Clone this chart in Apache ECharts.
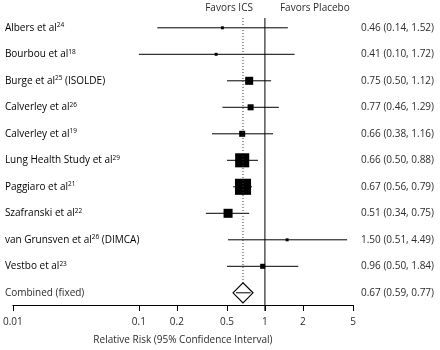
<!DOCTYPE html>
<html>
<head>
<meta charset="utf-8">
<script src="https://cdn.jsdelivr.net/npm/echarts@6/dist/echarts.min.js"></script>
<style>
  html, body { margin: 0; padding: 0; background: #fff; }
  #chart { width: 440px; height: 350px; }
</style>
</head>
<body>
<div id="chart"></div>
<script>
// study rows, top to bottom
let studies = ['Albers et al', 'Bourbou et al', 'Burge et al', 'Calverley et al', 'Calverley et al',
  'Lung Health Study et al', 'Paggiaro et al', 'Szafranski et al', 'van Grunsven et al', 'Vestbo et al'];
let refs = ['24', '18', '25', '26', '19', '29', '21', '22', '26', '23'];
let suffix = ['', '', ' (ISOLDE)', '', '', '', '', '', ' (DIMCA)', ''];
let rr = [0.46, 0.41, 0.75, 0.77, 0.66, 0.66, 0.67, 0.51, 1.50, 0.96];
let lower = [0.14, 0.10, 0.50, 0.46, 0.38, 0.50, 0.56, 0.34, 0.51, 0.50];
let upper = [1.52, 1.72, 1.12, 1.29, 1.16, 0.88, 0.79, 0.75, 4.49, 1.84];
let weight = [1.2, 1.2, 8.9, 5.0, 5.0, 27.2, 35.5, 11.2, 1.2, 3.5]; // % weight (box area)

let pooledLabel = 'Combined (fixed)';
let pooled = [0.67, 0.59, 0.77];

let xTicks = [0.01, 0.1, 0.2, 0.5, 1, 2, 5];

let font = '"Open Sans", "Noto Sans", sans-serif';
let textColor = '#2b2b2b';
let fs = 10;
let yMin = -0.37, yMax = 10.46;

let myChart = echarts.init(document.getElementById('chart'));

let fmt = v => v.toFixed(2);
let rich = {
  m: { fontSize: fs, fontFamily: font, color: textColor, lineHeight: 12 },
  s: { fontSize: 6.5, fontFamily: font, color: textColor, lineHeight: 12, padding: [0, 0, 5, 0] }
};

function studyItem(params, api) {
  let i = params.dataIndex;
  let c = api.coord([api.value(0), i]);
  let lo = api.coord([api.value(1), i]);
  let hi = api.coord([api.value(2), i]);
  let size = Math.sqrt(api.value(3)) * 2.7;
  let left = api.coord([0.01, i])[0];
  let rect = params.coordSys;
  return {
    type: 'group',
    children: [
      { type: 'line', shape: { x1: lo[0], y1: c[1], x2: hi[0], y2: c[1] }, style: { stroke: '#000', lineWidth: 1 } },
      { type: 'rect', shape: { x: c[0] - size / 2, y: c[1] - size / 2, width: size, height: size }, style: { fill: '#000' } },
      { type: 'text', style: {
          x: left - 8, y: c[1], text: '{m|' + studies[i] + '}{s|' + refs[i] + '}{m|' + suffix[i] + '}',
          rich: rich, verticalAlign: 'middle', align: 'left' } },
      { type: 'text', style: {
          x: rect.x + rect.width + 8, y: c[1], text: fmt(rr[i]) + ' (' + fmt(lower[i]) + ', ' + fmt(upper[i]) + ')',
          fontSize: fs, fontFamily: font, fill: textColor, verticalAlign: 'middle', align: 'left' } }
    ]
  };
}

function pooledItem(params, api) {
  let row = studies.length;
  let c = api.coord([pooled[0], row]);
  let lo = api.coord([pooled[1], row]);
  let hi = api.coord([pooled[2], row]);
  let top = api.coord([pooled[0], yMin]);
  let one = api.coord([1, yMin]);
  let bottom = api.coord([1, yMax]);
  let left = api.coord([0.01, row])[0];
  let rect = params.coordSys;
  let h = 10;
  return {
    type: 'group',
    children: [
      // line of no effect
      { type: 'line', shape: { x1: one[0], y1: one[1], x2: bottom[0], y2: bottom[1] + 6 }, style: { stroke: '#000', lineWidth: 1 } },
      // pooled estimate dotted line
      { type: 'line', shape: { x1: c[0], y1: top[1], x2: c[0], y2: c[1] - h }, style: { stroke: '#333', lineWidth: 1, lineDash: [1, 2] } },
      { type: 'polygon', shape: { points: [[c[0] - h, c[1]], [c[0], c[1] - h], [c[0] + h, c[1]], [c[0], c[1] + h]] },
        style: { fill: '#fff', stroke: '#000', lineWidth: 1.2 } },
      { type: 'line', shape: { x1: lo[0], y1: c[1], x2: hi[0], y2: c[1] }, style: { stroke: '#000', lineWidth: 1 } },
      { type: 'text', style: { x: left - 8, y: c[1], text: pooledLabel, fontSize: fs, fontFamily: font, fill: textColor, verticalAlign: 'middle' } },
      { type: 'text', style: {
          x: rect.x + rect.width + 8, y: c[1], text: fmt(pooled[0]) + ' (' + fmt(pooled[1]) + ', ' + fmt(pooled[2]) + ')',
          fontSize: fs, fontFamily: font, fill: textColor, verticalAlign: 'middle' } },
      // headers
      { type: 'text', style: { x: one[0] - 12, y: 8, text: 'Favors ICS', fontSize: fs, fontFamily: font, fill: textColor, align: 'right', verticalAlign: 'middle' } },
      { type: 'text', style: { x: one[0] + 15, y: 8, text: 'Favors Placebo', fontSize: fs, fontFamily: font, fill: textColor, align: 'left', verticalAlign: 'middle' } }
    ]
  };
}

myChart.setOption({
  animation: false,
  grid: { left: 9, right: 87, top: 18, bottom: 45 },
  xAxis: {
    type: 'log',
    logBase: 10,
    min: 0.01,
    max: 5,
    name: 'Relative Risk (95% Confidence Interval)',
    nameLocation: 'middle',
    nameGap: 30,
    nameTextStyle: { fontSize: fs, fontFamily: font, color: textColor },
    axisLine: { onZero: false, lineStyle: { color: '#000', width: 1 } },
    axisTick: { length: 6, lineStyle: { color: '#000' }, customValues: xTicks },
    axisLabel: { fontSize: fs, fontFamily: font, color: textColor, margin: 12, customValues: xTicks,
      formatter: v => String(+v.toPrecision(2)) },
    splitLine: { show: false },
    minorTick: { show: false }
  },
  yAxis: {
    type: 'value',
    min: yMin,
    max: yMax,
    inverse: true,
    show: false
  },
  series: [
    {
      type: 'custom',
      renderItem: studyItem,
      data: rr.map((v, i) => [v, lower[i], upper[i], weight[i]])
    },
    {
      type: 'custom',
      renderItem: pooledItem,
      data: [[pooled[0], pooled[1], pooled[2]]]
    }
  ]
});
</script>
</body>
</html>
